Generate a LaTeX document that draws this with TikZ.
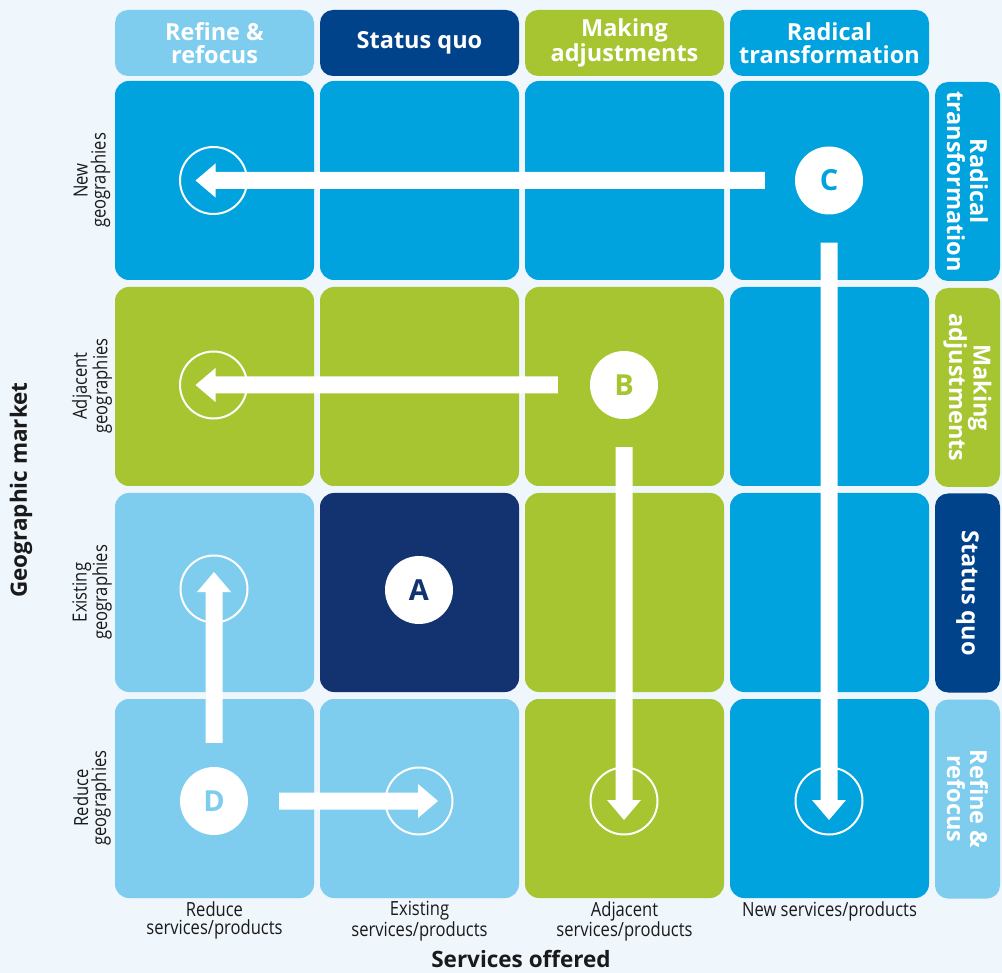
\documentclass[tikz,border=0pt]{standalone}
\usepackage{fontspec}
\setmainfont{Open Sans}
\newfontfamily\condfont[FakeStretch=0.85]{Open Sans}
\usetikzlibrary{calc}
\definecolor{bgc}{HTML}{EFF6FC}
\definecolor{medblue}{HTML}{00A3DE}
\definecolor{lightblue}{HTML}{7ECDEE}
\definecolor{leaf}{HTML}{A6C530}
\definecolor{navy}{HTML}{00438A}
\definecolor{deepnavy}{HTML}{12336F}
\definecolor{labc}{HTML}{1A1A1A}
\newcommand\wideArrow[2]{%
  \coordinate (hb) at ($(#2)!20pt!(#1)$);
  \fill[white] ($(#1)!8.5pt!90:(#2)$) -- ($(hb)!8.5pt!-90:(#1)$) -- ($(hb)!17pt!-90:(#1)$) -- (#2) -- ($(hb)!17pt!90:(#1)$) -- ($(hb)!8.5pt!90:(#1)$) -- ($(#1)!8.5pt!-90:(#2)$) -- cycle;}
\begin{document}
\begin{tikzpicture}[x=1pt,y=-1pt,
  cell/.style={rectangle,rounded corners=14pt,minimum width=199pt,minimum height=199pt,inner sep=0pt},
  hdr/.style={rectangle,rounded corners=13pt,minimum width=199pt,minimum height=66pt,inner sep=0pt,text=white,font=\bfseries\fontsize{23.5}{23}\selectfont,align=center},
  sidebox/.style={rectangle,rounded corners=13pt,minimum width=65pt,minimum height=199pt,inner sep=0pt},
  sidetext/.style={rotate=-90,text=white,font=\bfseries\fontsize{23.5}{23}\selectfont,align=center,inner sep=0pt},
  rowlab/.style={rotate=90,text=labc,font=\condfont\fontsize{19.5}{18}\selectfont,align=center,inner sep=0pt},
  collab/.style={anchor=north,text=labc,font=\condfont\fontsize{19.5}{18}\selectfont,align=center,inner sep=0pt},
  axislab/.style={text=labc,font=\bfseries\fontsize{22.5}{22.5}\selectfont,inner sep=0pt},
  ring/.style={circle,draw=white,line width=2pt,minimum size=67pt,inner sep=0pt},
  letter/.style={circle,fill=white,minimum size=68pt,inner sep=0pt,font=\bfseries\fontsize{29}{29}\selectfont}]
\useasboundingbox (0,0) rectangle (1002,973);
\fill[bgc] (0,0) rectangle (1002,973);
% header
\node[hdr,fill=lightblue] (h1) at (214.5,43) {Refine \&\\refocus};
\node[hdr,fill=navy] (h2) at (419.5,43) {Status quo};
\node[hdr,fill=leaf] (h3) at (624.5,43) {Making\\adjustments};
\node[hdr,fill=medblue] (h4) at (829.5,43) {Radical\\transformation};
% grid
\node[cell,fill=medblue] (c11) at (214.5,180.5) {};
\node[cell,fill=medblue] (c12) at (419.5,180.5) {};
\node[cell,fill=medblue] (c13) at (624.5,180.5) {};
\node[cell,fill=medblue] (c14) at (829.5,180.5) {};
\node[cell,fill=leaf] (c21) at (214.5,386.5) {};
\node[cell,fill=leaf] (c22) at (419.5,386.5) {};
\node[cell,fill=leaf] (c23) at (624.5,386.5) {};
\node[cell,fill=medblue] (c24) at (829.5,386.5) {};
\node[cell,fill=lightblue] (c31) at (214.5,592.5) {};
\node[cell,fill=deepnavy] (c32) at (419.5,592.5) {};
\node[cell,fill=leaf] (c33) at (624.5,592.5) {};
\node[cell,fill=medblue] (c34) at (829.5,592.5) {};
\node[cell,fill=lightblue] (c41) at (214.5,798.5) {};
\node[cell,fill=lightblue] (c42) at (419.5,798.5) {};
\node[cell,fill=leaf] (c43) at (624.5,798.5) {};
\node[cell,fill=medblue] (c44) at (829.5,798.5) {};
% side labels
\node[sidebox,fill=medblue] (s1) at (967.5,181.5) {};
\node[sidetext] at (s1) {Radical\\transformation};
\node[sidebox,fill=leaf] (s2) at (967.5,387.5) {};
\node[sidetext] at (s2) {Making\\adjustments};
\node[sidebox,fill=navy] (s3) at (967.5,593) {};
\node[sidetext] at (s3) {Status quo};
\node[sidebox,fill=lightblue] (s4) at (967.5,799) {};
\node[sidetext] at (s4) {Refine \&\\refocus};
% row labels
\node[rowlab] (r1) at (92,180.5) {New\\geographies};
\node[rowlab] (r2) at (92,386) {Adjacent\\geographies};
\node[rowlab] (r3) at (92,592.5) {Existing\\geographies};
\node[rowlab] (r4) at (92,798) {Reduce\\geographies};
\node[axislab,rotate=90] (ya) at (21,490) {Geographic market};
% column labels
\node[collab] (b1) at (214.5,901) {Reduce\\services/products};
\node[collab] (b2) at (419.5,901) {Existing\\services/products};
\node[collab] (b3) at (624.5,901) {Adjacent\\services/products};
\node[collab] (b4) at (829.5,901) {New services/products};
\node[axislab] (xa) at (521,959) {Services offered};
% rings
\node[ring] (o11) at (213.5,180.5) {};
\node[ring] (o21) at (213.5,385) {};
\node[ring] (o31) at (214,589) {};
\node[ring] (o42) at (419,801) {};
\node[ring] (o43) at (624,801) {};
\node[ring] (o44) at (829,801) {};
% letter circles
\node[letter,text=medblue] (C) at (829,180.5) {C};
\node[letter,text=leaf] (B) at (624,385) {B};
\node[letter,text=deepnavy] (A) at (419,590) {A};
\node[letter,text=lightblue] (D) at (214,801) {D};
% arrows
\coordinate (Cl) at ([xshift=-30pt]C.west);
\coordinate (Cd) at ([yshift=-28pt]C.south);
\coordinate (Bl) at ([xshift=-32pt]B.west);
\coordinate (Bd) at ([yshift=-28pt]B.south);
\coordinate (Du) at ([yshift=24pt]D.north);
\coordinate (Dr) at ([xshift=31pt]D.east);
\coordinate (t11) at ([xshift=-18pt]o11.center);
\coordinate (t44) at ([yshift=-19pt]o44.center);
\coordinate (t21) at ([xshift=-18pt]o21.center);
\coordinate (t43) at ([yshift=-19pt]o43.center);
\coordinate (t31) at ([yshift=17pt]o31.center);
\coordinate (t42) at ([xshift=19pt]o42.center);
\wideArrow{Cl}{t11}
\wideArrow{Cd}{t44}
\wideArrow{Bl}{t21}
\wideArrow{Bd}{t43}
\wideArrow{Du}{t31}
\wideArrow{Dr}{t42}
\end{tikzpicture}
\end{document}
